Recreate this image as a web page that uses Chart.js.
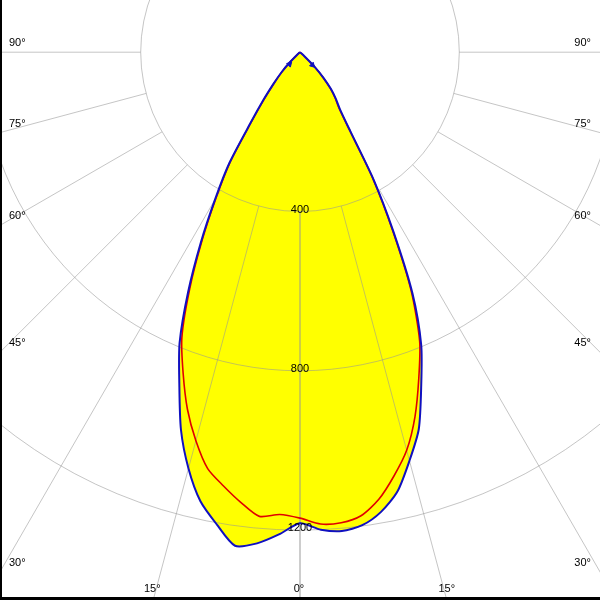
<!DOCTYPE html>
<html>
<head>
<meta charset="utf-8">
<script src="https://cdn.jsdelivr.net/npm/chart.js@4"></script>
<style>
  html, body { margin: 0; padding: 0; background: #fff; }
  #wrap { width: 600px; height: 600px; }
</style>
</head>
<body>
<div id="wrap"><canvas id="ldc" width="600" height="600"></canvas></div>
<script>
// Angles du diagramme (degrés depuis la verticale vers le bas)
const angles = [0, 2.5, 5, 7.5, 10, 12.5, 15, 17.5, 20, 22.5, 25, 27.5, 30, 32.5, 35, 37.5, 40, 42.5, 45, 47.5, 50];

// Intensités (cd) - plan C0 / C180 (bleu)
const blueRight = [1183, 1200, 1207, 1198, 1172, 1130, 1062, 992, 890, 795, 668, 508, 370, 235, 175, 148, 121, 88, 52, 15, 0];
const blueLeft  = [1183, 1212, 1238, 1250, 1204, 1155, 1082, 994, 886, 790, 665, 540, 426, 330, 215, 150, 103, 70, 40, 12, 0];

// Intensités (cd) - plan C90 / C270 (rouge)
const redRight = [1170, 1186, 1186, 1174, 1140, 1090, 1035, 960, 872, 785, 660, 502, 365, 230, 170, 145, 118, 85, 50, 14, 0];
const redLeft  = [1170, 1162, 1170, 1140, 1106, 1071, 1010, 940, 858, 775, 655, 532, 420, 325, 210, 146, 100, 67, 38, 10, 0];

// Grille
const ringValues = [400, 800, 1200];
const ringLabels = ['400', '800', '1200'];
const spokeAngles = [0, 15, 30, 45, 60, 75, 90];
const spokeLabels = ['0°', '15°', '30°', '45°', '60°', '75°', '90°'];

// Petites flèches au bout des courbes
const arrowAngles = [-41, 44];
const arrowValues = [40, 45];

const PX_PER_CD = 0.405;
const CENTER_Y = 48;

function polarPoint(deg, cd) {
    const t = deg * Math.PI / 180;
    return { x: cd * Math.sin(t), y: -cd * Math.cos(t) };
}

function buildCurve(left, right) {
    const pts = [];
    for (let i = angles.length - 1; i >= 0; i--) {
        pts.push(polarPoint(-angles[i], left[i]));
    }
    for (let i = 1; i < angles.length; i++) {
        pts.push(polarPoint(angles[i], right[i]));
    }
    return pts;
}

const bluePoints = buildCurve(blueLeft, blueRight);
const redPoints = buildCurve(redLeft, redRight);
const arrowPoints = arrowAngles.map((a, i) => polarPoint(a, arrowValues[i]));

// Grille polaire dessinée juste après le remplissage jaune
const polarGrid = {
    id: 'polarGrid',
    afterDatasetDraw(chart, args) {
        if (args.index !== 0) return;
        const ctx = chart.ctx;
        const xs = chart.scales.x;
        const ys = chart.scales.y;
        const cx = xs.getPixelForValue(0);
        const cy = ys.getPixelForValue(0);
        const rad = v => xs.getPixelForValue(v) - cx;

        ctx.save();
        ctx.strokeStyle = 'rgba(150, 150, 150, 0.55)';
        ctx.lineWidth = 1;

        ringValues.forEach(v => {
            ctx.beginPath();
            ctx.arc(cx, cy, rad(v), 0, Math.PI * 2);
            ctx.stroke();
        });

        spokeAngles.forEach(a => {
            [a, -a].forEach(s => {
                if (a === 0 && s !== a) return;
                const p0 = polarPoint(s, ringValues[0]);
                const p1 = polarPoint(s, 3000);
                ctx.beginPath();
                ctx.moveTo(xs.getPixelForValue(p0.x), ys.getPixelForValue(p0.y));
                ctx.lineTo(xs.getPixelForValue(p1.x), ys.getPixelForValue(p1.y));
                ctx.stroke();
            });
        });
        ctx.restore();
    },
    afterDraw(chart) {
        const ctx = chart.ctx;
        const xs = chart.scales.x;
        const ys = chart.scales.y;
        const cx = xs.getPixelForValue(0);
        const cy = ys.getPixelForValue(0);
        const w = chart.width;
        const h = chart.height;

        ctx.save();
        ctx.fillStyle = '#000';
        ctx.font = '11px "Liberation Sans", Arial, sans-serif';

        // valeurs des cercles
        ctx.textAlign = 'center';
        ctx.textBaseline = 'alphabetic';
        ringValues.forEach((v, i) => {
            const y = ys.getPixelForValue(-v);
            ctx.fillText(ringLabels[i], cx, y + 1);
        });

        // angles
        spokeAngles.forEach((a, i) => {
            const t = a * Math.PI / 180;
            const exitSide = a === 0 ? Infinity : (w / 2) / Math.tan(t);
            const downY = cy + exitSide;
            if (a !== 0 && downY < h - 4) {
                ctx.textAlign = 'left';
                ctx.fillText(spokeLabels[i], 9, downY - 6);
                ctx.textAlign = 'right';
                ctx.fillText(spokeLabels[i], w - 9, downY - 6);
            } else {
                const dx = (h - cy) * Math.tan(t);
                ctx.textAlign = 'center';
                ctx.fillText(spokeLabels[i], cx - dx - 1, h - 8);
                if (a !== 0) ctx.fillText(spokeLabels[i], cx + dx, h - 8);
            }
        });

        // cadre
        ctx.fillRect(0, 0, 2, h);
        ctx.fillRect(0, h - 3, w, 3);
        ctx.restore();
    }
};

const chart = new Chart(document.getElementById('ldc'), {
    type: 'line',
    data: {
        datasets: [
            {
                data: bluePoints,
                fill: 'shape',
                backgroundColor: '#ffff00',
                borderColor: 'rgba(0,0,0,0)',
                borderWidth: 0,
                pointRadius: 0,
                tension: 0.25,
                order: 4
            },
            {
                data: redPoints,
                fill: false,
                borderColor: '#e00000',
                borderWidth: 1.6,
                pointRadius: 0,
                tension: 0.25,
                order: 3
            },
            {
                data: bluePoints,
                fill: false,
                borderColor: '#1010c0',
                borderWidth: 2,
                pointRadius: 0,
                tension: 0.25,
                order: 2
            },
            {
                data: arrowPoints,
                showLine: false,
                fill: false,
                pointStyle: 'triangle',
                pointRadius: 3,
                rotation: [45, 135],
                backgroundColor: '#1010c0',
                borderColor: '#1010c0',
                order: 1
            }
        ]
    },
    options: {
        responsive: false,
        animation: false,
        layout: { padding: 0 },
        plugins: {
            legend: { display: false },
            tooltip: { enabled: false }
        },
        scales: {
            x: { type: 'linear', display: false, min: -300 / PX_PER_CD, max: 300 / PX_PER_CD },
            y: { type: 'linear', display: false, min: -(600 - CENTER_Y) / PX_PER_CD, max: CENTER_Y / PX_PER_CD }
        }
    },
    plugins: [polarGrid]
});
</script>
</body>
</html>
